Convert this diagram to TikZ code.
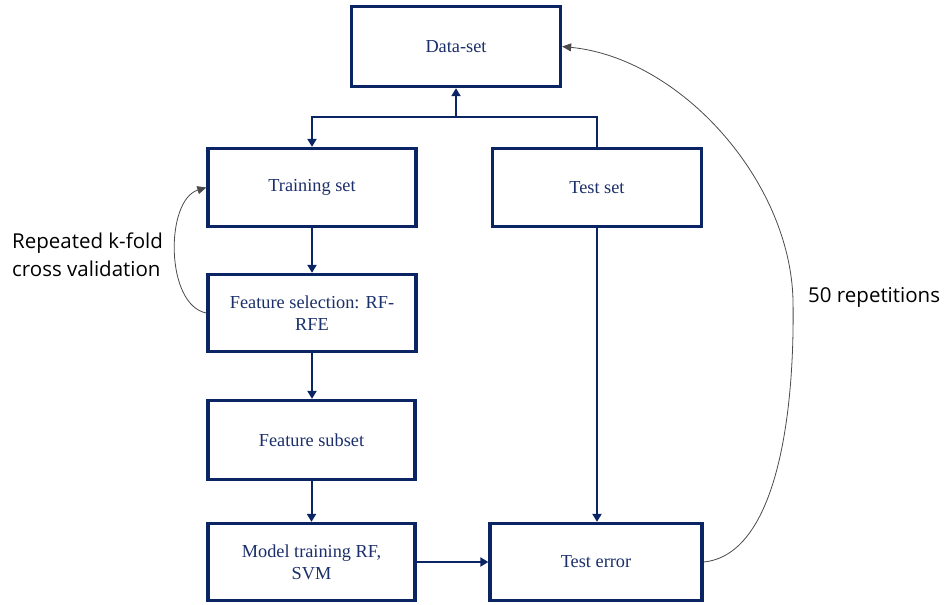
\documentclass[tikz,border=0pt]{standalone}
\usepackage{fontspec}
\setmainfont{Liberation Serif}
\newfontfamily\labelfont{Open Sans}
\usetikzlibrary{arrows.meta}
\definecolor{navy}{HTML}{0A2464}
\definecolor{navytext}{HTML}{1B2F6B}
\definecolor{loopgray}{HTML}{4A4A4A}
\tikzset{
  stepbox/.style={draw=navy, line width=3.3pt, fill=white, rectangle,
    text=navytext, align=center, font=\fontsize{18.3}{22}\selectfont,
    inner sep=2pt},
  flow/.style={draw=navy, line width=2pt,
    -{Triangle[length=8pt,width=9pt]}},
  flowplain/.style={draw=navy, line width=2pt},
  loop/.style={draw=loopgray, line width=0.8pt,
    -{Triangle[length=9pt,width=8pt]}},
  sidelabel/.style={font=\labelfont\fontsize{20.5}{28}\selectfont, text=black,
    align=left, inner sep=0pt}
}
\begin{document}
\begin{tikzpicture}[x=1pt,y=-1pt]
\useasboundingbox (0,0) rectangle (945,605);

% process boxes
\node[stepbox, minimum width=209pt, minimum height=80pt] (data)  at (456,46.5) {Data-set};
\node[stepbox, minimum width=208pt, minimum height=78pt] (train) at (312,187.5) {Training set};
\node[stepbox, minimum width=209pt, minimum height=78pt] (test)  at (597,187.5) {Test set};
\node[stepbox, minimum width=208pt, minimum height=77pt] (fs)    at (312,313) {Feature selection: RF-\\RFE};
\node[stepbox, minimum width=207pt, minimum height=79pt] (sub)   at (311.5,440) {Feature subset};
\node[stepbox, minimum width=207pt, minimum height=77pt] (model) at (311.5,562) {Model training RF,\\SVM};
\node[stepbox, minimum width=212pt, minimum height=77pt] (err)   at (596,562) {Test error};

% split of the data set
\coordinate (split) at (456,117);
\draw[flow] (split) -- (data.south);
\draw[flow] (split) -| (train.north);
\draw[flowplain] (split) -| (test.north);

% main flow
\draw[flow] (train.south) -- (fs.north);
\draw[flow] (fs.south) -- (fs.south |- sub.north);
\draw[flow] (sub.south) -- (model.north);
\draw[flow] (model.east) -- (err.west);
\draw[flow] (test.south) -- (test.south |- err.north);

% repetition loops
\draw[loop] (fs.west) .. controls (165,305) and (165,200) .. (train.west);
\draw[loop] (err.east) .. controls (775,555) and (795,420) .. (793,300)
  .. controls (790,180) and (680,58) .. (data.east);

% loop labels
\node[sidelabel, anchor=west] (cvlabel) at (12,255) {Repeated k-fold\\cross validation};
\node[sidelabel, anchor=west] (replabel) at (808,297) {50 repetitions};
\end{tikzpicture}
\end{document}
